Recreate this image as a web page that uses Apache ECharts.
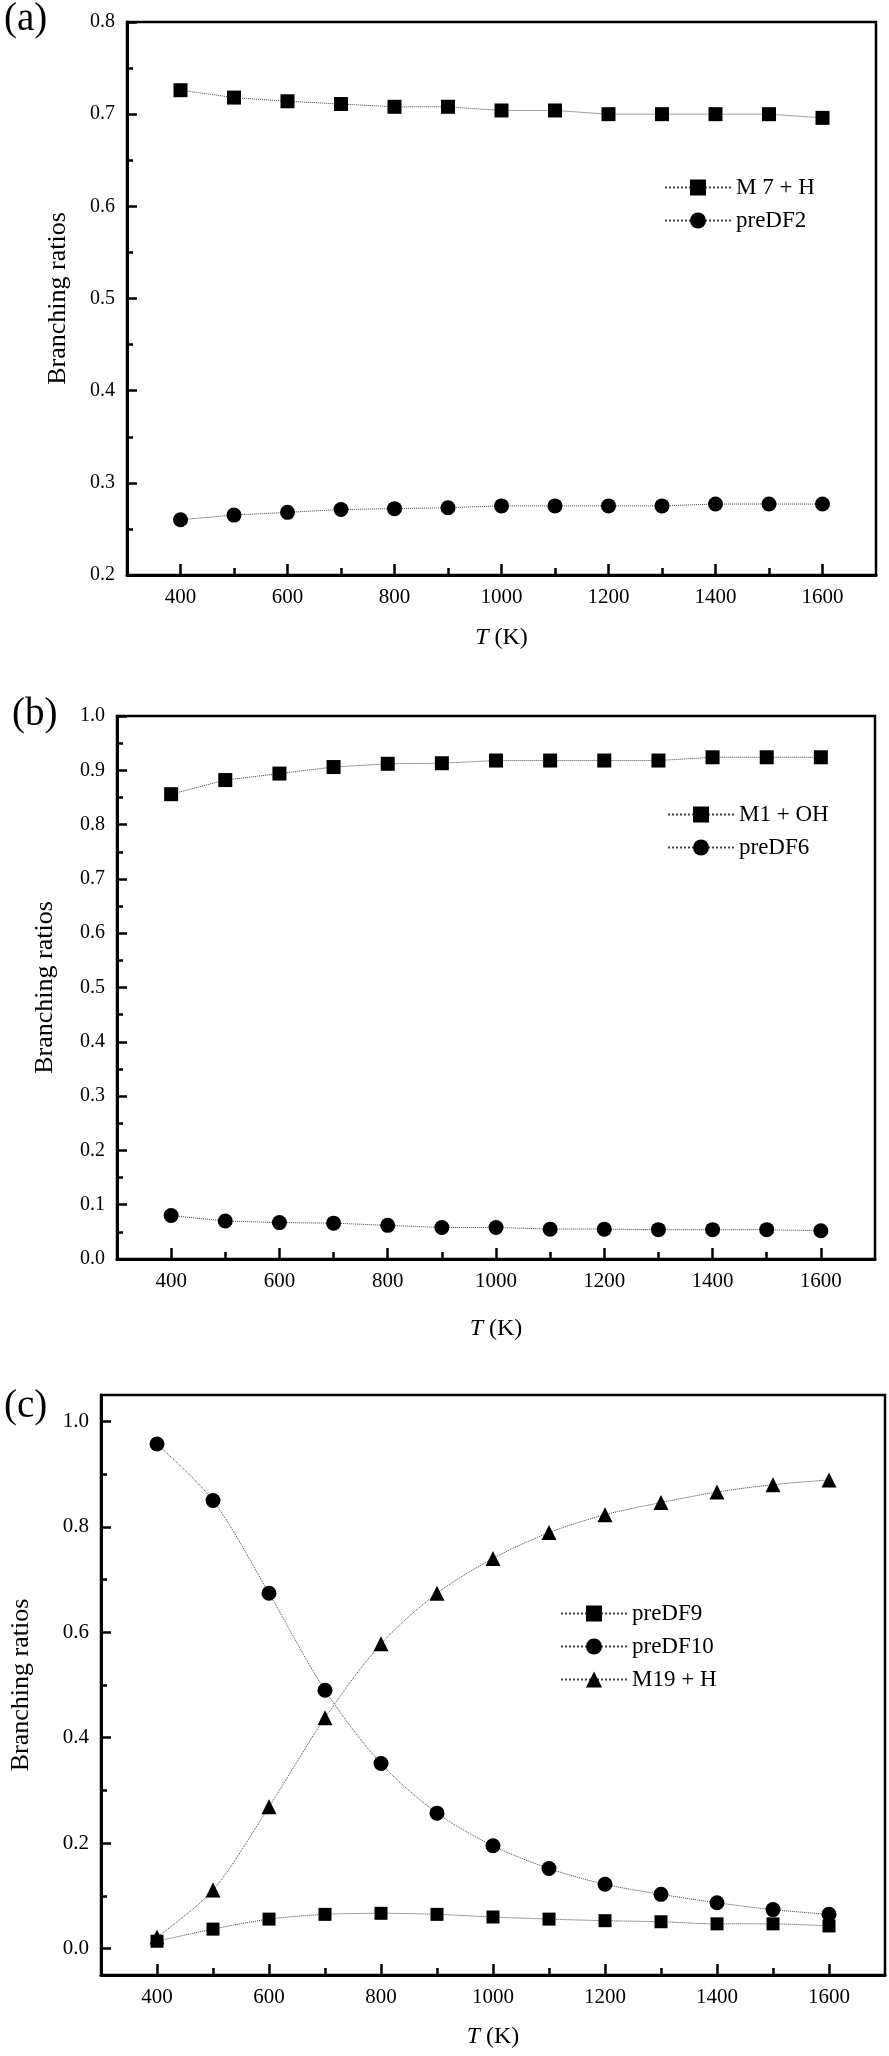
<!DOCTYPE html>
<html>
<head>
<meta charset="utf-8">
<script src="https://cdn.jsdelivr.net/npm/echarts@6/dist/echarts.min.js"></script>
<style>html,body{margin:0;padding:0;background:#fff}#c{width:889px;height:2056px}</style>
</head>
<body>
<div id="c"></div>
<script>
// Temperatures (K)
const temps = [400, 500, 600, 700, 800, 900, 1000, 1100, 1200, 1300, 1400, 1500, 1600];
const xLabelTicks = [400, 600, 800, 1000, 1200, 1400, 1600];
const xMinorTicks = [500, 700, 900, 1100, 1300, 1500];

// Panel (a)
const aM7H = [0.726, 0.718, 0.714, 0.711, 0.708, 0.708, 0.704, 0.704, 0.700, 0.700, 0.700, 0.700, 0.696];
const aPreDF2 = [0.260, 0.265, 0.268, 0.271, 0.272, 0.273, 0.275, 0.275, 0.275, 0.275, 0.277, 0.277, 0.277];
const aYMajor = [0.2, 0.3, 0.4, 0.5, 0.6, 0.7, 0.8];
const aYMinor = [0.25, 0.35, 0.45, 0.55, 0.65, 0.75];

// Panel (b)
const bM1OH = [0.856, 0.882, 0.894, 0.906, 0.912, 0.913, 0.918, 0.918, 0.918, 0.918, 0.924, 0.924, 0.924];
const bPreDF6 = [0.080, 0.070, 0.067, 0.066, 0.062, 0.058, 0.058, 0.055, 0.055, 0.054, 0.054, 0.054, 0.052];
const bYMajor = [0.0, 0.1, 0.2, 0.3, 0.4, 0.5, 0.6, 0.7, 0.8, 0.9, 1.0];
const bYMinor = [0.05, 0.15, 0.25, 0.35, 0.45, 0.55, 0.65, 0.75, 0.85, 0.95];

// Panel (c)
const cPreDF9 = [0.014, 0.037, 0.056, 0.065, 0.067, 0.065, 0.060, 0.056, 0.053, 0.051, 0.047, 0.047, 0.043];
const cPreDF10 = [0.957, 0.850, 0.674, 0.490, 0.351, 0.257, 0.195, 0.152, 0.122, 0.103, 0.087, 0.074, 0.065];
const cM19H = [0.022, 0.111, 0.269, 0.438, 0.578, 0.674, 0.740, 0.789, 0.823, 0.846, 0.866, 0.880, 0.889];
const cYMajor = [0.0, 0.2, 0.4, 0.6, 0.8, 1.0];
const cYMinor = [0.1, 0.3, 0.5, 0.7, 0.9];

const FONT = 'Liberation Serif';
const pairs = arr => temps.map((t, i) => [t, arr[i]]);

const grids = [
  {left: 127, top: 22, width: 749, height: 553},
  {left: 117, top: 716, width: 758, height: 543},
  {left: 97, top: 1395, width: 788, height: 580}
];
const yRanges = [[0.2, 0.8], [0.0, 1.0], [-0.05, 1.05]];
const yMajors = [aYMajor, bYMajor, cYMajor];
const yMinors = [aYMinor, bYMinor, cYMinor];
const yNameGaps = [56, 59, 67];
const xNameGaps = [51, 58, 50];
const xLabelSizes = [21, 21, 21];
const yLabelSizes = [20, 20, 21];

const xAxes = [], yAxes = [];
const tickAxis = (kind, i, vals, len, range) => ({
  type: 'value', gridIndex: i, min: range[0], max: range[1],
  position: kind === 'x' ? 'bottom' : 'left',
  axisLine: {show: false, onZero: false},
  axisTick: {show: true, inside: true, length: len, lineStyle: {color: '#000', width: 2.5}, customValues: vals},
  axisLabel: {show: false},
  splitLine: {show: false}
});

grids.forEach((g, i) => {
  xAxes.push({
    type: 'value', gridIndex: i, min: 300, max: 1700,
    name: '{i|T} (K)', nameLocation: 'middle', nameGap: xNameGaps[i],
    nameTextStyle: {fontFamily: FONT, fontSize: 24, color: '#000', rich: {i: {fontStyle: 'italic', fontFamily: FONT, fontSize: 24, color: '#000'}}},
    axisLine: {show: true, onZero: false, lineStyle: {color: '#000', width: 3}},
    axisTick: {show: false},
    axisLabel: {show: true, margin: 12, fontFamily: FONT, fontSize: xLabelSizes[i], color: '#000', customValues: xLabelTicks,
      formatter: v => String(Math.round(v))},
    splitLine: {show: false}
  });
  xAxes.push(tickAxis('x', i, xLabelTicks, 11, [300, 1700]));
  xAxes.push(tickAxis('x', i, xMinorTicks, 7, [300, 1700]));
  yAxes.push({
    type: 'value', gridIndex: i, min: yRanges[i][0], max: yRanges[i][1],
    name: 'Branching ratios', nameLocation: 'middle', nameGap: yNameGaps[i], nameRotate: 90,
    nameTextStyle: {fontFamily: FONT, fontSize: 26, color: '#000'},
    axisLine: {show: true, onZero: false, lineStyle: {color: '#000', width: 3}},
    axisTick: {show: false},
    axisLabel: {show: true, margin: 12, fontFamily: FONT, fontSize: yLabelSizes[i], color: '#000', customValues: yMajors[i],
      formatter: v => Number(v).toFixed(1)},
    splitLine: {show: false}
  });
  yAxes.push(tickAxis('y', i, yMajors[i], 10, yRanges[i]));
  yAxes.push(tickAxis('y', i, yMinors[i], 6, yRanges[i]));
});

function mk(name, data, grid, symbol, size, smooth) {
  return {
    name, type: 'line', xAxisIndex: grid * 3, yAxisIndex: grid * 3, data: pairs(data),
    symbol, symbolSize: size, smooth: smooth || false,
    itemStyle: {color: '#000'},
    lineStyle: {color: '#444', width: 1, type: 'dotted'},
    z: 5
  };
}

const series = [
  mk('M 7 + H', aM7H, 0, 'rect', 14),
  mk('preDF2', aPreDF2, 0, 'circle', 15),
  mk('M1 + OH', bM1OH, 1, 'rect', 14),
  mk('preDF6', bPreDF6, 1, 'circle', 15),
  mk('preDF9', cPreDF9, 2, 'rect', 13, 0.3),
  mk('preDF10', cPreDF10, 2, 'circle', 15, 0.3),
  mk('M19 + H', cM19H, 2, 'triangle', 15, 0.3)
];

const legendBase = {
  orient: 'vertical', itemWidth: 66, itemHeight: 20, itemGap: 10,
  textStyle: {fontFamily: FONT, fontSize: 23, color: '#000', lineHeight: 22},
  padding: 0, selectedMode: false
};

const option = {
  animation: false,
  backgroundColor: '#fff',
  title: [
    {text: '(a)', left: 4, top: 0, padding: 0, textStyle: {fontFamily: FONT, fontSize: 39, fontWeight: 'normal', color: '#000'}},
    {text: '(b)', left: 12, top: 695, padding: 0, textStyle: {fontFamily: FONT, fontSize: 39, fontWeight: 'normal', color: '#000'}},
    {text: '(c)', left: 4, top: 1387, padding: 0, textStyle: {fontFamily: FONT, fontSize: 39, fontWeight: 'normal', color: '#000'}}
  ],
  grid: grids.map(g => Object.assign({show: true, borderColor: '#000', borderWidth: 2.5, backgroundColor: 'transparent'}, g)),
  xAxis: xAxes,
  yAxis: yAxes,
  legend: [
    Object.assign({}, legendBase, {left: 664, top: 176, data: ['M 7 + H', 'preDF2']}),
    Object.assign({}, legendBase, {left: 667, top: 803, data: ['M1 + OH', 'preDF6']}),
    Object.assign({}, legendBase, {left: 560, top: 1602, data: ['preDF9', 'preDF10', 'M19 + H']})
  ],
  series
};

const chart = echarts.init(document.getElementById('c'), null, {renderer: 'canvas'});
chart.setOption(option);
</script>
</body>
</html>
